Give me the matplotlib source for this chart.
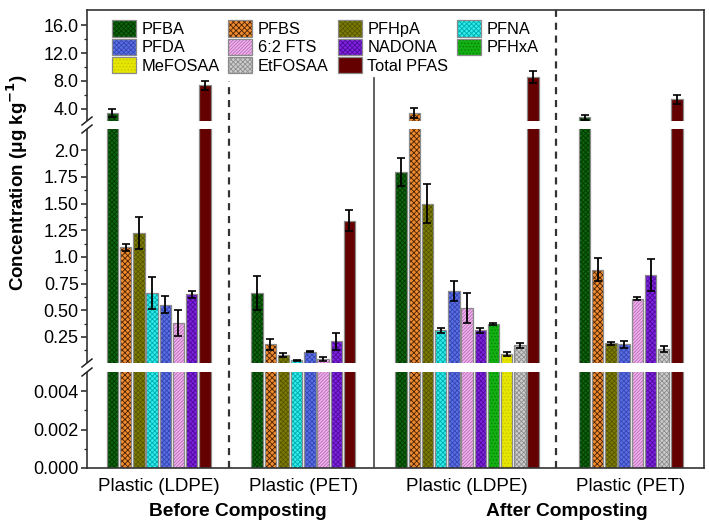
import numpy as np
import matplotlib
matplotlib.use("Agg")
import matplotlib.pyplot as plt
import matplotlib.patches as mpatches
from matplotlib.ticker import FixedLocator, FixedFormatter

plt.rcParams['font.family'] = ['Liberation Sans', 'DejaVu Sans']
plt.rcParams['hatch.linewidth'] = 0.6

# ---------------- data ----------------
compounds = ['PFBA', 'PFBS', 'PFHpA', 'PFNA', 'PFDA', '6:2 FTS', 'NADONA',
             'PFHxA', 'MeFOSAA', 'EtFOSAA', 'Total PFAS']

group_labels = ['Plastic (LDPE)', 'Plastic (PET)', 'Plastic (LDPE)', 'Plastic (PET)']
stage_labels = ['Before Composting', 'After Composting']

before_ldpe_names = ['PFBA', 'PFBS', 'PFHpA', 'PFNA', 'PFDA', '6:2 FTS', 'NADONA', 'Total PFAS']
before_ldpe_vals = [3.38, 1.09, 1.22, 0.66, 0.55, 0.38, 0.65, 7.32]
before_ldpe_errs = [0.55, 0.03, 0.15, 0.15, 0.08, 0.12, 0.035, 0.58]

before_pet_names = ['PFBA', 'PFBS', 'PFHpA', 'PFNA', 'PFDA', '6:2 FTS', 'NADONA', 'Total PFAS']
before_pet_vals = [0.66, 0.18, 0.08, 0.03, 0.11, 0.04, 0.21, 1.34]
before_pet_errs = [0.16, 0.05, 0.02, 0.005, 0.006, 0.02, 0.08, 0.10]

after_ldpe_names = ['PFBA', 'PFBS', 'PFHpA', 'PFNA', 'PFDA', '6:2 FTS', 'NADONA',
                    'PFHxA', 'MeFOSAA', 'EtFOSAA', 'Total PFAS']
after_ldpe_vals = [1.80, 3.32, 1.50, 0.31, 0.68, 0.52, 0.31, 0.37, 0.09, 0.17, 8.60]
after_ldpe_errs = [0.13, 0.75, 0.18, 0.02, 0.09, 0.14, 0.02, 0.006, 0.015, 0.02, 0.87]

after_pet_names = ['PFBA', 'PFBS', 'PFHpA', 'PFDA', '6:2 FTS', 'NADONA', 'EtFOSAA', 'Total PFAS']
after_pet_vals = [2.75, 0.88, 0.19, 0.18, 0.61, 0.83, 0.135, 5.34]
after_pet_errs = [0.38, 0.11, 0.015, 0.03, 0.01, 0.15, 0.025, 0.64]

ytick_vals = [0.0, 0.002, 0.004, 0.25, 0.5, 0.75, 1.0, 1.25, 1.5, 1.75, 2.0,
              4.0, 8.0, 12.0, 16.0]
ytick_labels = ['0.000', '0.002', '0.004', '0.25', '0.50', '0.75', '1.0', '1.25',
                '1.50', '1.75', '2.0', '4.0', '8.0', '12.0', '16.0']
yminor_vals = [0.001, 0.003, 0.125, 0.375, 0.625, 0.875, 1.125, 1.375, 1.625,
               1.875, 6.0, 10.0, 14.0]

# ---------------- styles ----------------
face = {'PFBA': '#0e650e', 'PFBS': '#ee8a30', 'PFHpA': '#7c7c05', 'PFNA': '#30eeee',
        'PFDA': '#5a6ee6', '6:2 FTS': '#f4b0f0', 'NADONA': '#8222e0', 'PFHxA': '#12b012',
        'MeFOSAA': '#e6e600', 'EtFOSAA': '#cdcdcd', 'Total PFAS': '#640000'}
hcol = {'PFBA': '#003800', 'PFBS': '#4a2200', 'PFHpA': '#555500', 'PFNA': '#00aaaa',
        'PFDA': '#3646b0', '6:2 FTS': '#b070b0', 'NADONA': '#4c0c9c', 'PFHxA': '#078007',
        'MeFOSAA': '#c4c400', 'EtFOSAA': '#8e8e8e', 'Total PFAS': '#640000'}
hatch = {'PFBA': 'xxxxxxx', 'PFBS': 'xxxxxx', 'PFHpA': 'xxxxxxx', 'PFNA': 'xxxxxxx',
         'PFDA': 'xxxxxxx', '6:2 FTS': '//////////', 'NADONA': 'xxxxxxx', 'PFHxA': '.....',
         'MeFOSAA': '.....', 'EtFOSAA': 'xxxxxxx', 'Total PFAS': None}

# ---------------- broken-axis scale ----------------
bA, bB, ytop = 0.005, 2.2, 18.2
hA, g1, hB, g2, hC = 96.0, 9.0, 234.0, 8.0, 111.0
H = hA + g1 + hB + g2 + hC
uk = np.array([0, hA, hA + g1, hA + g1 + hB, hA + g1 + hB + g2, H])
vk = np.array([0, bA, bA, bB, bB, ytop])


def fwd(v):
    v = np.asarray(v, dtype=float)
    return np.where(v <= bA, v / bA * hA,
                    np.where(v <= bB, hA + g1 + (v - bA) / (bB - bA) * hB,
                             hA + g1 + hB + g2 + (v - bB) / (ytop - bB) * hC))


def inv(u):
    u = np.asarray(u, dtype=float)
    mid = np.interp(u, uk, vk)
    lo = u / hA * bA
    hi = bB + (u - (hA + g1 + hB + g2)) / hC * (ytop - bB)
    return np.where(u < 0, lo, np.where(u > H, hi, mid))


# ---------------- figure ----------------
fig = plt.figure(figsize=(7.09, 5.32), dpi=100)
ax = fig.add_axes([87 / 709, 64 / 532, 617 / 709, 458 / 532])
ax.set_yscale('function', functions=(fwd, inv))
ax.set_ylim(0, ytop)

pitch = 1.0
width = 0.86
xmax = 46.74
group_centers = [5.43, 16.38, 28.79, 41.19]
data_groups = [
    (before_ldpe_names, before_ldpe_vals, before_ldpe_errs),
    (before_pet_names, before_pet_vals, before_pet_errs),
    (after_ldpe_names, after_ldpe_vals, after_ldpe_errs),
    (after_pet_names, after_pet_vals, after_pet_errs),
]

for gc, (names, vals, errs) in zip(group_centers, data_groups):
    n = len(names)
    xs = gc + (np.arange(n) - (n - 1) / 2) * pitch
    for x, nm, v in zip(xs, names, vals):
        ax.bar(x, v, width=width, color=face[nm], edgecolor=hcol[nm],
               hatch=hatch[nm], linewidth=0, zorder=1)
        ax.bar(x, v, width=width, color='none', edgecolor='#8a8a8a',
               linewidth=0.9, zorder=1.1)
    ax.errorbar(xs, vals, yerr=errs, fmt='none', ecolor='black', elinewidth=1.3,
                capsize=2.6, capthick=1.2, zorder=1.3)

ax.set_xlim(0, xmax)

# white gap bands (axis breaks)
for (u0, u1) in [(hA, hA + g1), (hA + g1 + hB, hA + g1 + hB + g2)]:
    ax.add_patch(mpatches.Rectangle((-0.01, u0 / H), 0.995, (u1 - u0) / H,
                                    transform=ax.transAxes, facecolor='white',
                                    edgecolor='none', zorder=2.6, clip_on=False))
    for uu in (u0, u1):
        yf = uu / H
        ax.plot([-5 / 617, 5 / 617], [yf - 4 / H, yf + 4 / H], transform=ax.transAxes,
                color='#222222', lw=1.1, clip_on=False, zorder=3)

# separators
ax.axvline(10.76, ymin=0, ymax=0.845, color='#333333', lw=1.6, ls=(0, (3.2, 2.6)), zorder=3)
ax.axvline(21.74, ymin=0, ymax=0.852, color='#444444', lw=1.2, zorder=3)
ax.axvline(35.53, ymin=0, ymax=1, color='#333333', lw=1.6, ls=(0, (3.2, 2.6)), zorder=3)

for s in ax.spines.values():
    s.set_color('#333333')
    s.set_linewidth(1.2)

# y ticks
ax.yaxis.set_major_locator(FixedLocator(ytick_vals))
ax.yaxis.set_major_formatter(FixedFormatter(ytick_labels))
ax.yaxis.set_minor_locator(FixedLocator(yminor_vals))
ax.tick_params(axis='y', which='major', direction='out', length=4, width=1.1,
               labelsize=13, pad=2, color='#222222')
ax.tick_params(axis='y', which='minor', direction='out', length=2.2, width=0.9,
               color='#222222')

# x ticks
ax.set_xticks(group_centers)
ax.set_xticklabels(group_labels)
ax.tick_params(axis='x', length=0, labelsize=13.5, pad=7)

for xc, lab in zip([11.44, 36.36], stage_labels):
    ax.text(xc, -0.095, lab, transform=ax.get_xaxis_transform(), ha='center',
            va='center', fontsize=13.8, fontweight='bold')

fig.text(17 / 709, 1 - 291 / 532, 'Concentration (μg kg$^{\\mathbf{-1}}$)', rotation=90,
         ha='center', va='bottom', fontsize=13.5, fontweight='bold')


def handle(nm):
    p1 = mpatches.Patch(facecolor=face[nm], edgecolor=hcol[nm], hatch=hatch[nm], linewidth=0)
    p2 = mpatches.Patch(facecolor='none', edgecolor='#8a8a8a', linewidth=0.9)
    return (p1, p2)


order = ['PFBA', 'PFDA', 'MeFOSAA', 'PFBS', '6:2 FTS', 'EtFOSAA',
         'PFHpA', 'NADONA', 'Total PFAS', 'PFNA', 'PFHxA']
leg = ax.legend([handle(n) for n in order], order, ncol=4, loc='upper left',
                bbox_to_anchor=(0.027, 0.995), frameon=False, fontsize=11.8,
                handlelength=1.45, handleheight=1.15, handletextpad=0.35,
                labelspacing=0.1, columnspacing=0.55, borderaxespad=0.1)
leg.set_zorder(5)

fig.savefig('out.png', dpi=100)
